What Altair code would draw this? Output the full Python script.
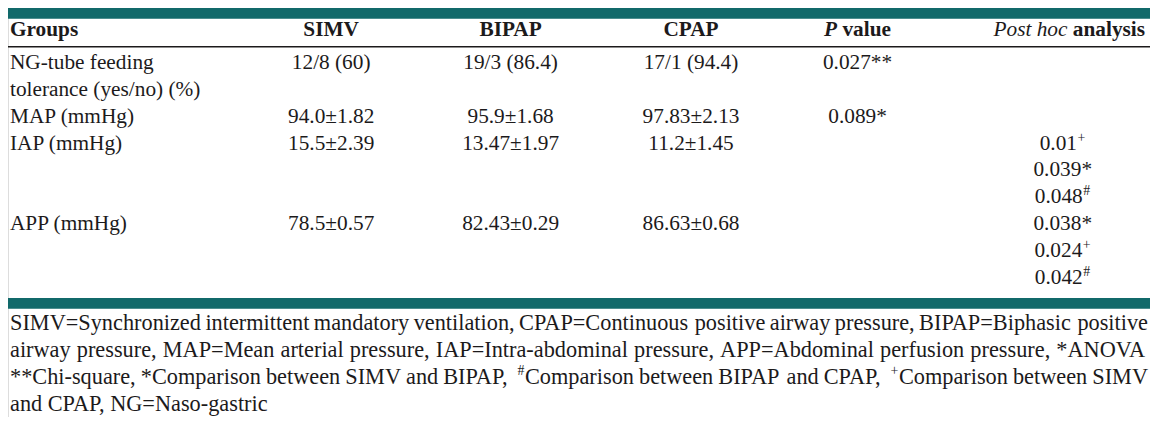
import altair as alt
import pandas as pd

# ------------------------------------------------------------------ data
header_groups = "Groups"
header_arms = ["SIMV", "BIPAP", "CPAP"]
header_p = ("P", "value")
header_posthoc = ("Post hoc", "analysis")

row_labels = [["NG-tube feeding", "tolerance (yes/no) (%)"], ["MAP (mmHg)"], ["IAP (mmHg)"], ["APP (mmHg)"]]
simv = ["12/8 (60)", "94.0±1.82", "15.5±2.39", "78.5±0.57"]
bipap = ["19/3 (86.4)", "95.9±1.68", "13.47±1.97", "82.43±0.29"]
cpap = ["17/1 (94.4)", "97.83±2.13", "11.2±1.45", "86.63±0.68"]
p_values = ["0.027**", "0.089*", "", ""]
# "^x" marks a superscript character
post_hoc = [[], [], ["0.01^+", "0.039*", "0.048^#"], ["0.038*", "0.024^+", "0.042^#"]]

footnote_lines = [
    "SIMV=Synchronized intermittent mandatory ventilation, CPAP=Continuous positive airway pressure, BIPAP=Biphasic positive",
    "airway pressure, MAP=Mean arterial pressure, IAP=Intra-abdominal pressure, APP=Abdominal perfusion pressure, *ANOVA",
    "**Chi-square, *Comparison between SIMV and BIPAP, ^#Comparison between BIPAP and CPAP, ^+Comparison between SIMV",
    "and CPAP, NG=Naso-gastric",
]

# ------------------------------------------------------------------ layout (reference units)
REF_W, REF_Y0, REF_Y1 = 1152, 1, 424
PLOT_W, PLOT_H = 1142, 409
SX = PLOT_W / REF_W
FS, FOOT_FS, SUP_FS = 21.5, 22.5, 14
FONT = "Liberation Serif"
INK = "#1c1a1b"
TEAL = "#11696a"

LEFT_X, RIGHT_X = 2, 1147
ARM_X = [326, 507, 689]
P_X, POST_X = 857, 1064
HEADER_Y, LINE0_Y, LINE_STEP = 24, 58, 27.75
FOOT_Y0, FOOT_STEP = 327, 27.7
SUP_DY = -6
row_start_line = [0, 2, 3, 6]

REG = {' ': 250, '#': 500, '%': 833, '(': 333, ')': 333, '*': 500, '+': 564, ',': 250, '-': 333,
       '.': 250, '/': 278, '=': 564, '±': 564,
       'A': 722, 'B': 667, 'C': 667, 'D': 722, 'E': 611, 'F': 556, 'G': 722, 'H': 722, 'I': 333,
       'J': 389, 'K': 722, 'L': 611, 'M': 889, 'N': 722, 'O': 722, 'P': 556, 'Q': 722, 'R': 667,
       'S': 556, 'T': 611, 'U': 722, 'V': 722, 'W': 944, 'X': 722, 'Y': 722, 'Z': 611,
       'a': 444, 'b': 500, 'c': 444, 'd': 500, 'e': 444, 'f': 333, 'g': 500, 'h': 500, 'i': 278,
       'j': 278, 'k': 500, 'l': 278, 'm': 778, 'n': 500, 'o': 500, 'p': 500, 'q': 500, 'r': 333,
       's': 389, 't': 278, 'u': 500, 'v': 500, 'w': 722, 'x': 500, 'y': 500, 'z': 444}
for d in "0123456789":
    REG[d] = 500
BOLD_ANALYSIS_EM = 3.390
BOLDITALIC_P_EM = 0.611
BOLD_VALUE_EM = 2.278


def tw(s, size):
    return sum(REG.get(c, 500) for c in s) / 1000 * size


def line_y(k):
    return LINE0_Y + LINE_STEP * k


rows = []


def add(x, y, text, kind):
    rows.append({"x": x, "y": y, "text": text, "kind": kind})


def add_rich(x_left, y, token, size, kind):
    """token may contain ^c superscripts"""
    x = x_left
    buf = ""
    i = 0
    while i < len(token):
        if token[i] == "^" and i + 1 < len(token):
            if buf:
                add(x, y, buf, kind)
                x += tw(buf, size)
                buf = ""
            add(x + 0.5, y + SUP_DY, token[i + 1], "sup_left")
            x += tw(token[i + 1], SUP_FS) + 1
            i += 2
        else:
            buf += token[i]
            i += 1
    if buf:
        add(x, y, buf, kind)


def rich_width(token, size):
    w = 0
    i = 0
    while i < len(token):
        if token[i] == "^" and i + 1 < len(token):
            w += tw(token[i + 1], SUP_FS) + 1
            i += 2
        else:
            w += tw(token[i], size)
            i += 1
    return w


# header
add(LEFT_X, HEADER_Y, header_groups, "bold_left")
for name, cx in zip(header_arms, ARM_X):
    add(cx, HEADER_Y, name, "bold_center")
pw = (BOLDITALIC_P_EM + 0.25 + BOLD_VALUE_EM) * FS
p_left = P_X - pw / 2
add(p_left, HEADER_Y, header_p[0], "bolditalic_left")
add(p_left + (BOLDITALIC_P_EM + 0.25) * FS, HEADER_Y, header_p[1], "bold_left")
add(RIGHT_X, HEADER_Y, header_posthoc[1], "bold_right")
add(RIGHT_X - (BOLD_ANALYSIS_EM + 0.25) * FS, HEADER_Y, header_posthoc[0], "italic_right")

# body
for r, start in enumerate(row_start_line):
    for j, lab in enumerate(row_labels[r]):
        add(LEFT_X, line_y(start + j), lab, "reg_left")
    for vals, cx in zip([simv, bipap, cpap], ARM_X):
        add(cx, line_y(start), vals[r], "reg_center")
    if p_values[r]:
        add(P_X, line_y(start), p_values[r], "reg_center")
    for j, tok in enumerate(post_hoc[r]):
        add_rich(POST_X - rich_width(tok, FS) / 2, line_y(start + j), tok, FS, "reg_left")

# footnote (justified except last line)
for k, line in enumerate(footnote_lines):
    y = FOOT_Y0 + FOOT_STEP * k
    if k == len(footnote_lines) - 1:
        add(LEFT_X, y, line, "foot_left")
        continue
    words = line.split(" ")
    widths = [rich_width(w, FOOT_FS) for w in words]
    gap = (1150 - LEFT_X - sum(widths)) / (len(words) - 1)
    x = LEFT_X
    for w, ww in zip(words, widths):
        add_rich(x, y, w, FOOT_FS, "foot_left")
        x += ww + gap

text_df = pd.DataFrame(rows)

bars_df = pd.DataFrame({"x": [0, 0], "x2": [REF_W, REF_W], "y": [1, 301], "y2": [12, 312]})
rule_df = pd.DataFrame({"x": [0], "x2": [REF_W], "y": [41]})

xs = alt.Scale(domain=[0, REF_W], range=[0, PLOT_W], nice=False, zero=False)
ys = alt.Scale(domain=[REF_Y0, REF_Y1], range=[0, PLOT_H], nice=False, zero=False)

bars = alt.Chart(bars_df).mark_rect(color=TEAL).encode(
    x=alt.X("x:Q", scale=xs, axis=None), x2="x2:Q",
    y=alt.Y("y:Q", scale=ys, axis=None), y2="y2:Q")

rule = alt.Chart(rule_df).mark_rule(color=INK, strokeWidth=1.6).encode(
    x=alt.X("x:Q", scale=xs, axis=None), x2="x2:Q",
    y=alt.Y("y:Q", scale=ys, axis=None))

base = alt.Chart(text_df)


def text_layer(kind, align, weight="normal", style="normal", size=FS):
    return base.transform_filter(alt.datum.kind == kind).mark_text(
        align=align, baseline="middle", font=FONT, fontSize=size * SX,
        fontWeight=weight, fontStyle=style, color=INK
    ).encode(
        x=alt.X("x:Q", scale=xs, axis=None),
        y=alt.Y("y:Q", scale=ys, axis=None),
        text="text:N",
    )


layers = [
    bars, rule,
    text_layer("reg_left", "left"),
    text_layer("foot_left", "left", size=FOOT_FS),
    text_layer("reg_center", "center"),
    text_layer("bold_left", "left", weight="bold"),
    text_layer("bold_center", "center", weight="bold"),
    text_layer("bold_right", "right", weight="bold"),
    text_layer("italic_right", "right", style="italic"),
    text_layer("bolditalic_left", "left", weight="bold", style="italic"),
    text_layer("sup_left", "left", size=SUP_FS),
]

chart = alt.layer(*layers).properties(
    width=PLOT_W, height=PLOT_H, padding=0, autosize=alt.AutoSizeParams(type="none")
).configure_view(stroke=None).configure(background="white")

chart.save("out.html", embed_options={"renderer": "svg", "actions": False})
